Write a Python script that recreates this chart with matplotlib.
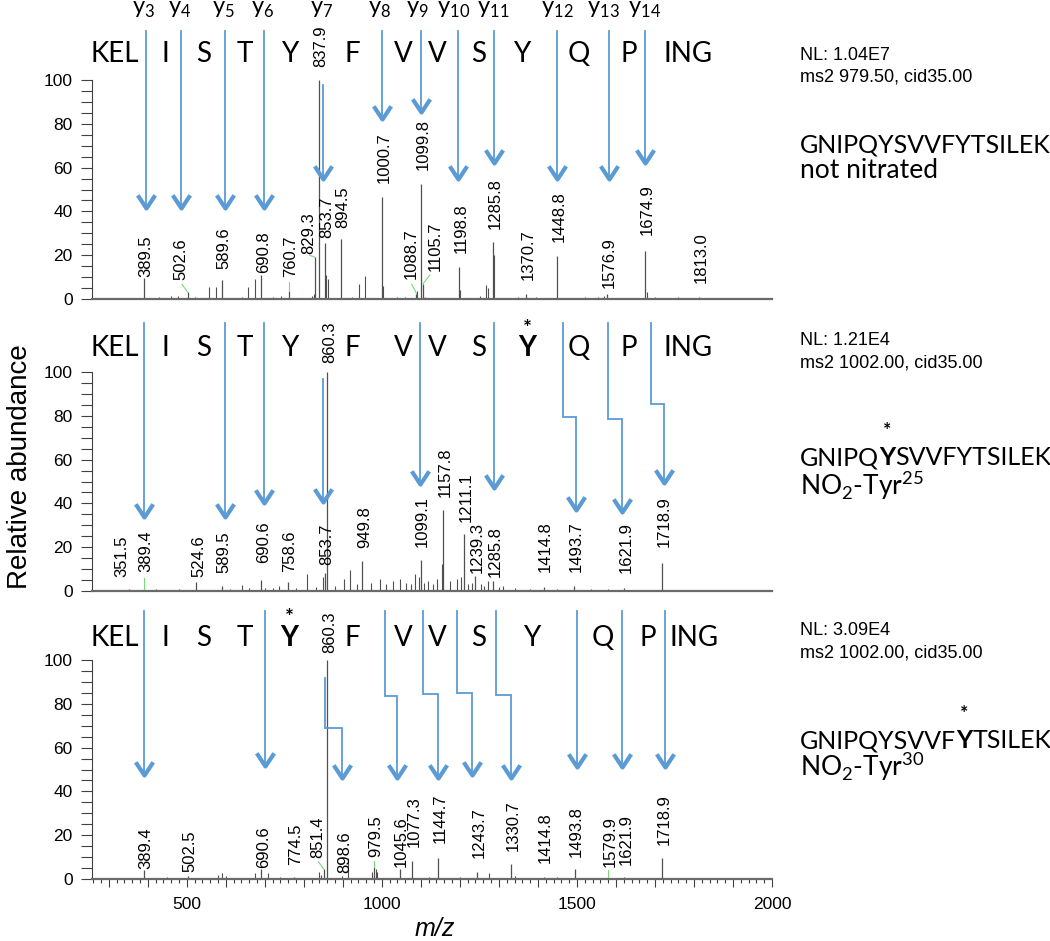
import matplotlib
matplotlib.use("Agg")
import matplotlib.pyplot as plt
import matplotlib.ticker as mticker
import matplotlib.transforms as mtransforms
from matplotlib.path import Path
from matplotlib.markers import MarkerStyle
from matplotlib.text import Annotation

plt.rcParams['font.family'] = ['Liberation Sans', 'DejaVu Sans']
SEQ_FONT = ['Lato', 'DejaVu Sans']
BLUE = '#5B9BD5'
PEAK = '#505050'
LEAD = '#77DD77'
AXC = '#404040'

# ---------------- data ----------------
# fragment ion labels (y ions) across the top
ion_num = ['3', '4', '5', '6', '7', '8', '9', '10', '11', '12', '13', '14']
ion_mz = [390, 482, 595, 694, 845, 994, 1091, 1183, 1285, 1449, 1567, 1674]

# residues written above each spectrum
res_names = ['KEL', 'I', 'S', 'T', 'Y', 'F', 'V', 'V', 'S', 'Y', 'Q', 'P', 'ING']
res_x_1 = [316, 446, 543, 648, 763, 925, 1055, 1142, 1247, 1359, 1505, 1633, 1784]
res_x_2 = [316, 446, 543, 648, 763, 925, 1055, 1142, 1247, 1372, 1505, 1633, 1784]
res_x_3 = [316, 446, 543, 648, 763, 925, 1055, 1142, 1247, 1385, 1566, 1682, 1799]

# panel 1: not nitrated
p1_mz = [389.5, 502.6, 589.6, 690.8, 760.7, 829.3, 837.9, 853.7, 894.5, 1000.7,
         1088.7, 1099.8, 1105.7, 1198.8, 1285.8, 1370.7, 1448.8, 1576.9, 1674.9, 1813.0]
p1_int = [9.6, 3.0, 8.5, 11.0, 3.5, 19.0, 100.0, 25.6, 27.4, 46.5,
          2.5, 52.5, 7.0, 14.6, 26.0, 2.5, 19.6, 2.5, 22.0, 1.0]
p1_minor_mz = [430, 460, 477, 520, 558, 575, 641, 657, 674, 722, 741, 821, 826, 857, 861, 924,
               941, 958, 1003, 1038, 1060, 1091, 1110, 1199, 1251, 1268, 1272, 1287, 1350, 1395,
               1520, 1553, 1570, 1680, 1700, 1760]
p1_minor_int = [0.8, 1.2, 1.5, 0.8, 5.5, 5.5, 0.8, 5.5, 9.0, 1.0, 1.5, 1.3, 2.5, 11.0, 9.0, 0.8,
                7.0, 10.5, 6.0, 1.0, 0.8, 3.8, 1.0, 4.0, 1.2, 6.5, 5.0, 20.0, 1.0, 0.8,
                0.8, 1.0, 1.5, 3.0, 0.8, 0.8]

# panel 2: NO2-Tyr25
p2_mz = [351.5, 389.4, 524.6, 589.5, 690.6, 758.6, 853.7, 860.3, 949.8, 1099.1,
         1157.8, 1211.1, 1239.3, 1285.8, 1414.8, 1493.7, 1621.9, 1718.9]
p2_int = [1.0, 0.6, 4.3, 2.3, 5.2, 4.0, 8.0, 100.0, 13.6, 14.0,
          37.0, 26.0, 7.0, 4.5, 1.8, 2.3, 1.5, 13.0]
p2_minor_mz = [300, 330, 420, 455, 480, 560, 610, 641, 660, 700, 720, 736, 780, 808, 830,
               849, 880, 903, 919, 935, 973, 995, 1010, 1029, 1046, 1063, 1075, 1086, 1095, 1108,
               1119, 1130, 1142, 1153, 1175, 1193, 1203, 1222, 1232, 1255, 1262, 1272, 1300, 1311,
               1340, 1380, 1450, 1536, 1580, 1650, 1800, 1900]
p2_minor_int = [0.5, 0.6, 0.8, 0.6, 0.8, 0.6, 0.8, 2.8, 1.2, 1.5, 1.2, 2.3, 1.5, 7.7, 2.0,
                6.2, 2.5, 5.4, 9.5, 3.0, 3.8, 5.4, 3.0, 4.6, 5.4, 3.8, 3.0, 7.7, 6.2, 3.5,
                4.6, 3.0, 5.4, 12.3, 4.6, 5.4, 6.2, 3.0, 3.8, 3.0, 2.5, 4.6, 2.0, 2.3,
                1.2, 1.0, 1.0, 1.0, 0.8, 0.6, 0.6, 0.5]

# panel 3: NO2-Tyr30
p3_mz = [389.4, 502.5, 690.6, 774.5, 851.4, 860.3, 898.6, 979.5, 1045.6, 1077.3,
         1144.7, 1243.7, 1330.7, 1414.8, 1493.8, 1579.9, 1621.9, 1718.9]
p3_int = [4.2, 1.2, 4.5, 1.0, 4.5, 100.0, 1.5, 5.5, 4.5, 8.3,
          9.6, 3.0, 7.0, 1.0, 4.4, 1.0, 1.0, 9.6]
p3_minor_mz = [450, 579, 590, 600, 674, 708, 740, 838, 845, 914, 975, 984, 988, 1120, 1200,
               1274, 1340, 1450]
p3_minor_int = [0.8, 2.0, 2.7, 1.5, 2.7, 2.7, 1.0, 3.0, 2.0, 9.6, 3.0, 4.5, 3.0, 1.0, 1.0,
                2.7, 1.5, 0.8]

# ion arrows: m/z where the arrow leaves the sequence and where it lands
p1_arr_x = [395, 485, 597, 697, 850, 1001, 1101, 1196, 1288, 1449, 1582, 1674]
p1_arr_x_end = [395, 485, 597, 697, 850, 1001, 1101, 1196, 1288, 1449, 1582, 1674]
p1_arr_tip = [41.5, 41.5, 41.5, 41.5, 55.0, 82.0, 85.4, 55.0, 62.0, 55.0, 55.0, 62.0]

p2_arr_x = [390, 597, 697, 850, 1098, 1288, 1464, 1579, 1689]
p2_arr_x_end = [390, 597, 697, 850, 1098, 1288, 1497, 1615, 1722]
p2_arr_tip = [33.6, 33.6, 40.0, 40.5, 49.0, 47.0, 37.0, 36.0, 49.5]

p3_arr_x = [390, 700, 855, 1009, 1106, 1193, 1293, 1500, 1615, 1725]
p3_arr_x_end = [390, 700, 899, 1040, 1145, 1231, 1331, 1500, 1615, 1725]
p3_arr_tip = [47.5, 51.6, 46.0, 46.0, 46.0, 47.5, 46.0, 51.0, 51.0, 51.0]

# ---------------- layout ----------------
p1_lab_y = [10.0, 8.7, 13.7, 11.9, 10.0, 20.5, 106.0, 28.0, 32.4, 53.0,
            9.0, 59.0, 13.0, 21.0, 32.0, 8.7, 26.0, 5.0, 29.0, 7.3]
p2_lab_y = [6.4, 8.6, 6.4, 8.0, 12.7, 8.6, 11.8, 104.0, 19.5, 20.0,
            43.0, 31.4, 8.0, 6.4, 8.6, 8.6, 8.0, 20.0]
p3_lab_y = [4.6, 3.0, 5.0, 6.4, 9.6, 103.0, 2.7, 10.0, 5.5, 14.6,
            16.4, 9.6, 13.0, 7.3, 10.0, 5.5, 6.4, 15.5]
p1_lab_move = {502.6: 480, 829.3: 807, 1088.7: 1070, 1105.7: 1132}
p2_lab_move = {351.5: 329}
p3_lab_move = {851.4: 830}
p1_leaders = [502.6, 760.7, 829.3, 1088.7, 1105.7]
p2_leaders = [389.4]
p3_leaders = [851.4, 979.5, 1579.9]

p1_arr_start = [122.5, 122.5, 122.5, 122.5, 97.7, 122.5, 122.5, 122.5, 122.5, 122.5, 122.5, 122.5]
p1_arr_step = [None] * 12
p2_arr_start = [122.5, 122.5, 122.5, 97.0, 122.5, 122.5, 122.5, 122.5, 122.5]
p2_arr_step = [None, None, None, None, None, None, 79.5, 78.6, 85.5]
p3_arr_start = [122.5, 122.5, 92.0, 122.5, 122.5, 122.5, 122.5, 122.5, 122.5, 122.5]
p3_arr_step = [None, None, 69.0, 83.6, 84.5, 85.0, 84.0, None, None, None]

W, H = 1050, 941
fig = plt.figure(figsize=(W / 100, H / 100), dpi=100)


def fx(px):
    return px / W


def fy(py):
    return 1 - py / H


head = MarkerStyle(Path([(-0.66, 1.0), (0, 0), (0.66, 1.0)],
                        [Path.MOVETO, Path.LINETO, Path.LINETO]),
                   fillstyle='none', joinstyle='miter', capstyle='butt')


def make_axes(y_zero_px, last):
    ax = fig.add_axes([fx(92), fy(y_zero_px), fx(772) - fx(92), 219 / H])
    ax.patch.set_visible(False)
    ax.set_xlim(257, 2000)
    ax.set_ylim(0, 100)
    for s in ['top', 'right']:
        ax.spines[s].set_visible(False)
    ax.spines['left'].set_color(AXC)
    ax.spines['bottom'].set_color('#6a6a6a')
    ax.spines['bottom'].set_linewidth(1.6)
    ax.set_yticks(range(0, 101, 20))
    ax.yaxis.set_minor_locator(mticker.MultipleLocator(5))
    ax.tick_params(axis='y', which='both', direction='out', length=8, width=0.8,
                   color=AXC, labelsize=12.5, pad=6)
    if last:
        ax.xaxis.set_major_locator(mticker.MultipleLocator(100))
        ax.xaxis.set_minor_locator(mticker.MultipleLocator(20))
        ax.xaxis.set_major_formatter(mticker.FuncFormatter(
            lambda v, p: '%d' % v if v % 500 == 0 else ''))
        ax.tick_params(axis='x', which='major', direction='out', length=6, width=0.8,
                       color=AXC, labelsize=12.5, pad=7)
        ax.tick_params(axis='x', which='minor', direction='out', length=3, width=0.8, color=AXC)
    else:
        ax.tick_params(axis='x', which='both', bottom=False, labelbottom=False)
    return ax


def draw_panel(ax, mz, inten, lab_y, lab_move, leaders, mmz, mint,
               ax_x, ax_x_end, a_start, a_step, a_tip, res_x, res_base, bold_idx, star_y):
    ax.vlines(mmz, 0, mint, color=PEAK, lw=0.8)
    ax.vlines(mz, 0, inten, color=PEAK, lw=0.9)
    tr = mtransforms.offset_copy(ax.transData, fig=fig, x=2, y=0, units='dots')
    for m, h, ly in zip(mz, inten, lab_y):
        lx = lab_move.get(m, m)
        ax.text(lx, ly, '%.1f' % m, rotation=90, ha='center', va='bottom', fontsize=12,
                transform=tr, clip_on=False)
        if m in leaders:
            # short leader from the label towards its peak
            ax.plot([lx + 0.35 * (m - lx), m], [ly + 0.35 * (h - ly), h],
                    color=LEAD, lw=0.8, clip_on=False)
    for xt, xb, ys, yj, yt in zip(ax_x, ax_x_end, a_start, a_step, a_tip):
        if yj is None:
            xs, yv = [xt, xb], [ys, yt]
        else:
            xs, yv = [xt, xt, xb, xb], [ys, yj, yj, yt]
        ax.plot(xs, yv, color=BLUE, lw=1.3, clip_on=False, solid_joinstyle='miter')
        ax.plot([xb], [yt], marker=head, ms=19, mew=3.0, mec=BLUE, mfc='none',
                clip_on=False, linestyle='none')
    for i, (name, x) in enumerate(zip(res_names, res_x)):
        bold = (i == bold_idx)
        ax.text(x, res_base, name, ha='center', va='baseline', fontsize=20,
                family=SEQ_FONT, fontweight='bold' if bold else 'normal', clip_on=False)
        if bold:
            ax.text(x, star_y, '*', ha='center', va='baseline', fontsize=15,
                    family=SEQ_FONT, fontweight='bold', clip_on=False)


ax1 = make_axes(299, False)
ax2 = make_axes(591, False)
ax3 = make_axes(879, True)

draw_panel(ax1, p1_mz, p1_int, p1_lab_y, p1_lab_move, p1_leaders, p1_minor_mz, p1_minor_int,
           p1_arr_x, p1_arr_x_end, p1_arr_start, p1_arr_step, p1_arr_tip, res_x_1, 108.3, None, 0)
draw_panel(ax2, p2_mz, p2_int, p2_lab_y, p2_lab_move, p2_leaders, p2_minor_mz, p2_minor_int,
           p2_arr_x, p2_arr_x_end, p2_arr_start, p2_arr_step, p2_arr_tip, res_x_2, 107.5, 9, 117)
draw_panel(ax3, p3_mz, p3_int, p3_lab_y, p3_lab_move, p3_leaders, p3_minor_mz, p3_minor_int,
           p3_arr_x, p3_arr_x_end, p3_arr_start, p3_arr_step, p3_arr_tip, res_x_3, 106.5, 4, 116.5)

# y-ion names on top
for n, x in zip(ion_num, ion_mz):
    ax1.text(x, 130.2, 'y$_{\\mathregular{%s}}$' % n, ha='center', va='baseline', fontsize=17,
             family=SEQ_FONT, clip_on=False)

fig.text(fx(20), fy(467), 'Relative abundance', rotation=90, ha='center', va='center', fontsize=20)
fig.text(fx(435), fy(929), 'm/z', style='italic', ha='center', va='center', fontsize=18)


def peptide(y_px, pre, mid, post):
    t = fig.text(fx(800), fy(y_px), pre, fontsize=18, family=SEQ_FONT, va='baseline')
    if not mid:
        return
    b = Annotation(mid, xy=(1, 0), xycoords=t, ha='left', va='bottom', fontsize=18,
                   family=SEQ_FONT, fontweight='bold')
    fig.add_artist(b)
    s = Annotation('*', xy=(0.5, 1), xycoords=b, xytext=(0, 5), textcoords='offset points',
                   ha='center', va='bottom', fontsize=14, family=SEQ_FONT, fontweight='bold')
    fig.add_artist(s)
    c = Annotation(post, xy=(1, 0), xycoords=b, ha='left', va='bottom', fontsize=18,
                   family=SEQ_FONT)
    fig.add_artist(c)


info = [('NL: 1.04E7', 'ms2 979.50, cid35.00', 60, 82),
        ('NL: 1.21E4', 'ms2 1002.00, cid35.00', 345, 367),
        ('NL: 3.09E4', 'ms2 1002.00, cid35.00', 635, 657)]
for l1, l2, b1, b2 in info:
    fig.text(fx(800), fy(b1), l1, fontsize=13, va='baseline')
    fig.text(fx(800), fy(b2), l2, fontsize=13, va='baseline')

peptide(152, 'GNIPQYSVVFYTSILEK', None, None)
fig.text(fx(800), fy(178), 'not nitrated', fontsize=19, family=SEQ_FONT, va='baseline')
peptide(465, 'GNIPQ', 'Y', 'SVVFYTSILEK')
fig.text(fx(800), fy(495), r'NO$_{\mathregular{2}}$-Tyr$^{\mathregular{25}}$', fontsize=19,
         family=SEQ_FONT, va='baseline')
peptide(748, 'GNIPQYSVVF', 'Y', 'TSILEK')
fig.text(fx(800), fy(776), r'NO$_{\mathregular{2}}$-Tyr$^{\mathregular{30}}$', fontsize=19,
         family=SEQ_FONT, va='baseline')

fig.savefig('out.png', dpi=100)
